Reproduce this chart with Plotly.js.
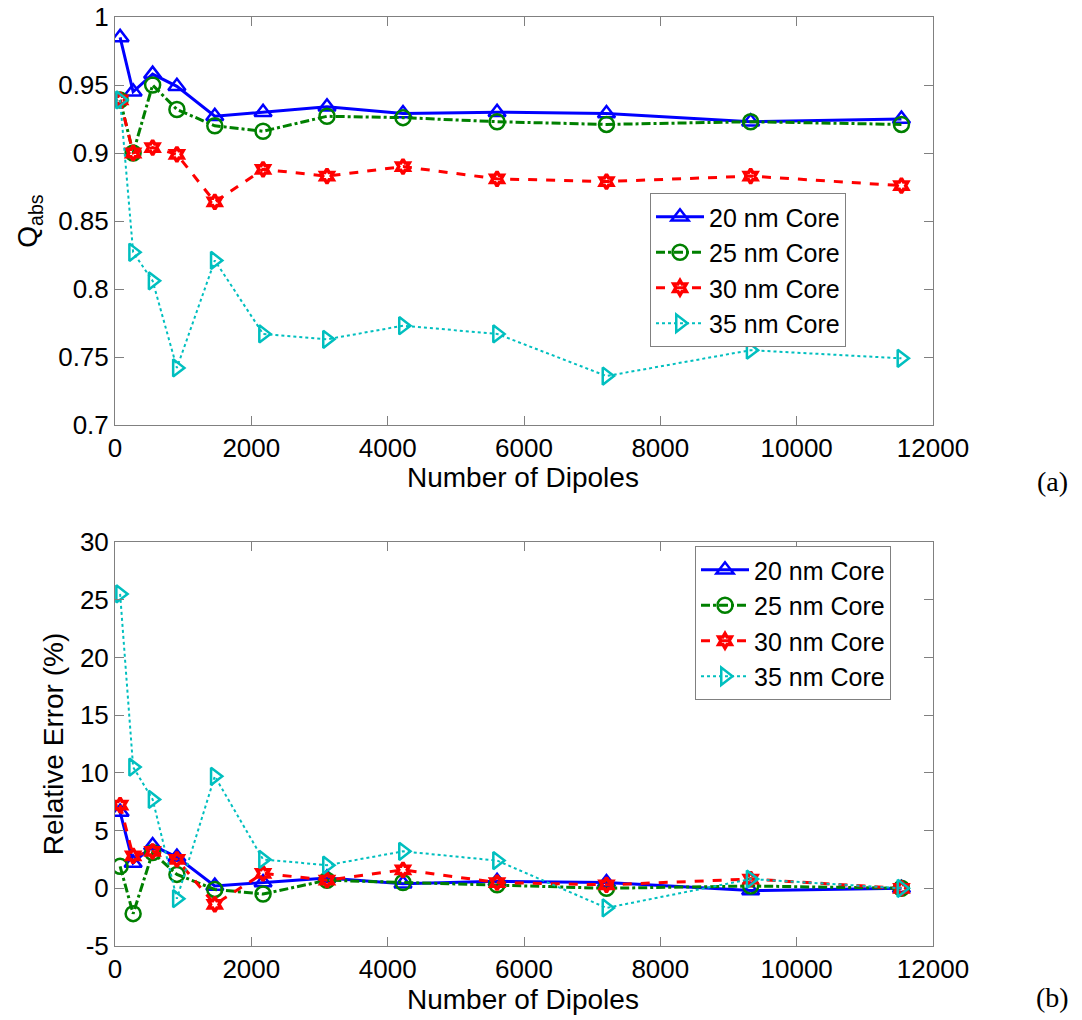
<!DOCTYPE html>
<html><head><meta charset="utf-8">
<script src="https://cdn.plot.ly/plotly-3.0.1.min.js"></script>
<style>html,body{margin:0;padding:0;background:#fff}#chart{width:1082px;height:1020px}</style>
</head><body><div id="chart"></div>
<script>
// Data
const dipoles = [75, 266, 552, 908, 1464, 2172, 3110, 4225, 5605, 7210, 9325, 11537];
const seriesNames = ['20 nm Core', '25 nm Core', '30 nm Core', '35 nm Core'];

// (a) absorption efficiency
const qabs20 = [0.985, 0.945, 0.958, 0.949, 0.927, 0.930, 0.934, 0.929, 0.930, 0.929, 0.923, 0.925];
const qabs25 = [0.939, 0.900, 0.950, 0.932, 0.920, 0.916, 0.927, 0.926, 0.923, 0.921, 0.923, 0.921];
const qabs30 = [0.939, 0.900, 0.904, 0.899, 0.864, 0.888, 0.883, 0.890, 0.881, 0.879, 0.883, 0.876];
const qabs35 = [0.939, 0.827, 0.806, 0.742, 0.821, 0.767, 0.763, 0.773, 0.767, 0.736, 0.755, 0.749];

// (b) relative error (%)
const err20 = [6.6, 2.2, 3.7, 2.7, 0.2, 0.5, 0.9, 0.4, 0.6, 0.5, -0.2, 0];
const err25 = [1.9, -2.2, 3.1, 1.2, -0.1, -0.5, 0.7, 0.5, 0.3, 0.0, 0.2, 0];
const err30 = [7.2, 2.8, 3.2, 2.5, -1.4, 1.3, 0.7, 1.6, 0.5, 0.3, 0.8, 0];
const err35 = [25.5, 10.5, 7.7, -0.9, 9.7, 2.5, 2.0, 3.2, 2.4, -1.7, 0.8, 0];

// Tick labels
const xTicks = [0, 2000, 4000, 6000, 8000, 10000, 12000];
const xTickText = ['0', '2000', '4000', '6000', '8000', '10000', '12000'];
const yTicksA = [0.7, 0.75, 0.8, 0.85, 0.9, 0.95, 1];
const yTickTextA = ['0.7', '0.75', '0.8', '0.85', '0.9', '0.95', '1'];
const yTicksB = [-5, 0, 5, 10, 15, 20, 25, 30];
const yTickTextB = ['-5', '0', '5', '10', '15', '20', '25', '30'];

const styles = [
  {color: 'rgb(0,0,255)', dash: 'solid', width: 3, symbol: 'triangle-up-open', size: 15, mlw: 2.5},
  {color: 'rgb(0,128,0)', dash: 'dashdot', width: 3, symbol: 'circle-open', size: 15, mlw: 2.5},
  {color: 'rgb(255,0,0)', dash: 'dash', width: 3, symbol: 'hexagram-open', size: 11, mlw: 3.5},
  {color: 'rgb(0,191,191)', dash: 'dot', width: 2, symbol: 'triangle-right-open', size: 15, mlw: 2.5}
];

const topSeries = [qabs20, qabs25, qabs30, qabs35];
const botSeries = [err20, err25, err30, err35];

function makeTrace(ys, i, xa, ya, lg) {
  const s = styles[i];
  return {
    x: dipoles, y: ys, name: seriesNames[i], type: 'scatter', mode: 'lines+markers',
    xaxis: xa, yaxis: ya, legend: lg,
    line: {color: s.color, dash: s.dash, width: s.width},
    marker: {symbol: s.symbol, size: s.size, color: s.color, line: {color: s.color, width: s.mlw}}
  };
}
const traces = [];
topSeries.forEach((ys, i) => traces.push(makeTrace(ys, i, 'x', 'y', 'legend')));
botSeries.forEach((ys, i) => traces.push(makeTrace(ys, i, 'x2', 'y2', 'legend2')));

const W = 1082, H = 1020;
const FONT = 'Liberation Sans, Arial, sans-serif';
const tickFont = {family: FONT, size: 26, color: '#000'};
const titleFont = {family: FONT, size: 28, color: '#000'};
const axisCommon = {
  ticks: 'inside', ticklen: 9, tickwidth: 1, tickcolor: '#808080',
  showline: true, linecolor: '#808080', linewidth: 1, mirror: 'ticks',
  showgrid: false, zeroline: false, tickfont: tickFont, tickmode: 'array'
};
const xDomain = [115 / W, 933 / W];
const legendCommon = {
  xanchor: 'left', yanchor: 'top',
  bgcolor: '#fff', bordercolor: '#808080', borderwidth: 1,
  font: {family: FONT, size: 25, color: '#000'}, itemwidth: 48, tracegroupgap: 0
};

const layout = {
  width: W, height: H,
  margin: {l: 0, r: 0, t: 0, b: 0},
  paper_bgcolor: '#fff', plot_bgcolor: '#fff',
  showlegend: true,
  xaxis: Object.assign({}, axisCommon, {
    domain: xDomain, anchor: 'y', range: [0, 12000],
    tickvals: xTicks, ticktext: xTickText
  }),
  yaxis: Object.assign({}, axisCommon, {
    domain: [1 - 425 / H, 1 - 17 / H], anchor: 'x', range: [0.7, 1],
    tickvals: yTicksA, ticktext: yTickTextA,
    title: {text: 'Q<sub>abs</sub>', font: titleFont, standoff: 12}
  }),
  xaxis2: Object.assign({}, axisCommon, {
    domain: xDomain, anchor: 'y2', range: [0, 12000],
    tickvals: xTicks, ticktext: xTickText
  }),
  yaxis2: Object.assign({}, axisCommon, {
    domain: [1 - 946 / H, 1 - 542 / H], anchor: 'x2', range: [-5, 30],
    tickvals: yTicksB, ticktext: yTickTextB,
    title: {text: 'Relative Error (%)', font: titleFont, standoff: 8}
  }),
  legend: Object.assign({}, legendCommon, {x: 650 / W, y: 1 - 193 / H}),
  legend2: Object.assign({}, legendCommon, {x: 695 / W, y: 1 - 546 / H}),
  annotations: [
    {text: 'Number of Dipoles', xref: 'paper', yref: 'paper', x: 523 / W, y: 1 - 477 / H,
     xanchor: 'center', yanchor: 'middle', showarrow: false, font: titleFont},
    {text: 'Number of Dipoles', xref: 'paper', yref: 'paper', x: 523 / W, y: 1 - 999 / H,
     xanchor: 'center', yanchor: 'middle', showarrow: false, font: titleFont},
    {text: '(a)', xref: 'paper', yref: 'paper', x: 1052 / W, y: 1 - 481 / H,
     xanchor: 'center', yanchor: 'middle', showarrow: false,
     font: {family: 'Liberation Serif, DejaVu Serif, serif', size: 28, color: '#000'}},
    {text: '(b)', xref: 'paper', yref: 'paper', x: 1052 / W, y: 1 - 997 / H,
     xanchor: 'center', yanchor: 'middle', showarrow: false,
     font: {family: 'Liberation Serif, DejaVu Serif, serif', size: 28, color: '#000'}}
  ]
};

Plotly.newPlot('chart', traces, layout, {displayModeBar: false, staticPlot: true});
</script>
</body></html>
